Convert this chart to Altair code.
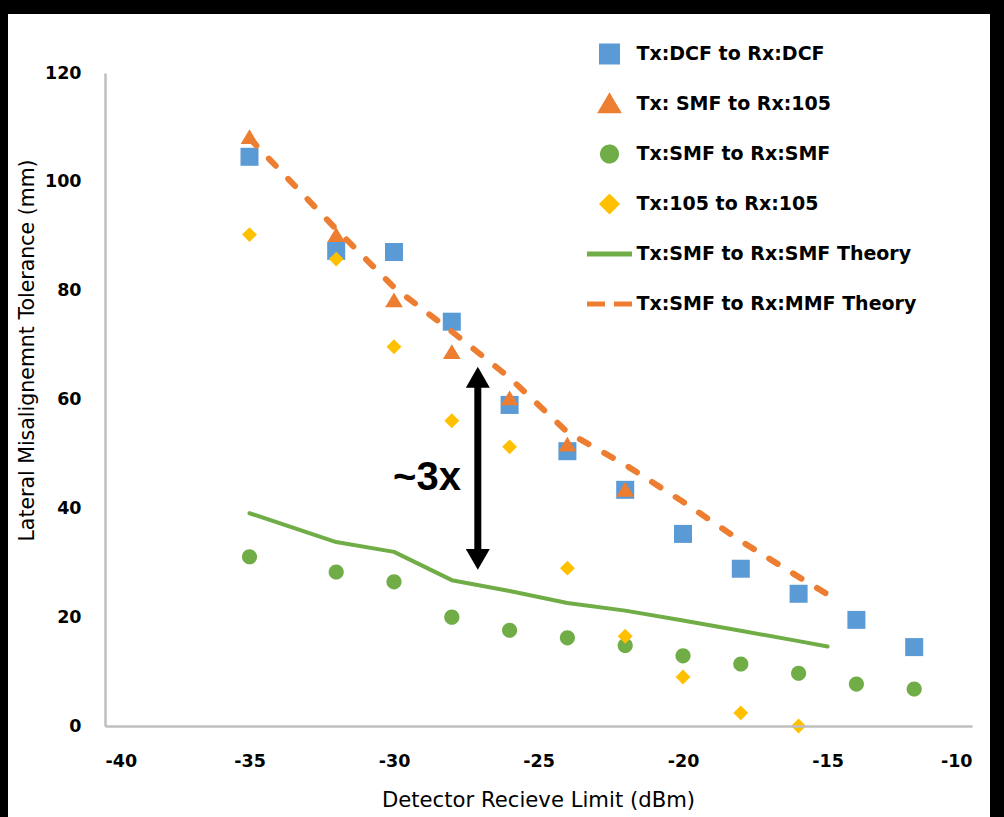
import json
import altair as alt
import pandas as pd

# Series names, in legend order
SERIES = [
    "Tx:DCF to Rx:DCF",
    "Tx: SMF to Rx:105",
    "Tx:SMF to Rx:SMF",
    "Tx:105 to Rx:105",
    "Tx:SMF to Rx:SMF Theory",
    "Tx:SMF to Rx:MMF Theory",
]
COLORS = ["#5B9BD5", "#ED7D31", "#70AD47", "#FFC000", "#70AD47", "#ED7D31"]

# Marker outlines as unit paths (1 unit = half the symbol box), so that
# legend swatches and line samples can share one symbol size.
SQUARE = "M-0.356,-0.356L0.356,-0.356L0.356,0.356L-0.356,0.356Z"
TRIANGLE = "M0,-0.3L0.356,0.3L-0.356,0.3Z"
CIRCLE = "M-0.311,0A0.311,0.311,0,1,0,0.311,0A0.311,0.311,0,1,0,-0.311,0Z"
DIAMOND = "M0,-0.311L0.311,0L0,0.311L-0.311,0Z"
SHAPES = [SQUARE, TRIANGLE, CIRCLE, DIAMOND, "stroke", "stroke"]
MARKER_SIZES = [2560, 2285, 2325, 2170]

# Measured tolerance (mm) vs detector receive limit (dBm)
x_dcf = [-35, -32, -30, -28, -26, -24, -22, -20, -18, -16, -14, -12]
y_dcf = [104.6, 87.3, 87.1, 74.3, 59.0, 50.5, 43.4, 35.3, 28.9, 24.3, 19.5, 14.5]

x_smf105 = [-35, -32, -30, -28, -26, -24, -22]
y_smf105 = [108.3, 90.3, 78.3, 68.8, 60.3, 51.8, 43.5]

x_smfsmf = [-35, -32, -30, -28, -26, -24, -22, -20, -18, -16, -14, -12]
y_smfsmf = [31.1, 28.3, 26.5, 20.0, 17.6, 16.2, 14.8, 12.9, 11.4, 9.7, 7.7, 6.8]

x_105 = [-35, -32, -30, -28, -26, -24, -22, -20, -18, -16]
y_105 = [90.3, 85.8, 69.7, 56.1, 51.3, 29.0, 16.5, 9.0, 2.4, 0.0]

# Theory curves
x_theory = [-35, -32, -30, -28, -26, -24, -22, -20, -18, -16, -15]
y_smf_theory = [39.1, 33.8, 32.0, 26.8, 24.8, 22.6, 21.2, 19.4, 17.5, 15.6, 14.6]
y_mmf_theory = [108.0, 91.3, 80.6, 72.5, 64.0, 54.0, 48.0, 41.2, 34.0, 27.4, 24.2]

# Annotation: double arrow between the two theory curves
arrow_x = [-27.1]
arrow_top = [66.0]
arrow_bottom = [28.7]
label_x = [-28.86]
label_y = [45.6]
label_text = ["~3x"]


def frame(xs, ys, name):
    return pd.DataFrame({"x": xs, "y": ys, "series": name})


points_df = pd.concat([
    frame(x_dcf, y_dcf, SERIES[0]),
    frame(x_smf105, y_smf105, SERIES[1]),
    frame(x_smfsmf, y_smfsmf, SERIES[2]),
    frame(x_105, y_105, SERIES[3]),
], ignore_index=True)

smf_theory_df = frame(x_theory, y_smf_theory, SERIES[4])
mmf_theory_df = frame(x_theory, y_mmf_theory, SERIES[5])

arrow_df = pd.DataFrame({"x": arrow_x, "top": arrow_top, "bottom": arrow_bottom})
label_df = pd.DataFrame({"x": label_x, "y": label_y, "text": label_text})

FONT = "DejaVu Sans"
PX_PER_Y = 653 / 120.0  # pixel height of one mm on the y axis
HEAD = 24  # arrow head width in px
head_offset = (3 ** 0.5 / 2) * (HEAD / 2) / PX_PER_Y

x_enc = alt.X(
    "x:Q",
    scale=alt.Scale(domain=[-40, -10], nice=False, zero=False),
    axis=alt.Axis(
        values=[-40, -35, -30, -25, -20, -15, -10],
        labelExpr="'' + datum.value",
        title="Detector Recieve Limit (dBm)",
        grid=False, ticks=False, zindex=1,
        domainColor="#BFBFBF", domainWidth=2.5,
        labelFont=FONT, labelFontSize=17.5, labelFontWeight="bold", labelColor="#000000",
        labelPadding=26, labelBaseline="top",
        titleFont=FONT, titleFontSize=21.2, titleFontWeight="normal", titleColor="#000000",
        titleX=433, titleY=74, titleBaseline="middle", titleAnchor="middle",
    ),
)
y_enc = alt.Y(
    "y:Q",
    scale=alt.Scale(domain=[0, 120], nice=False),
    axis=alt.Axis(
        values=[0, 20, 40, 60, 80, 100, 120],
        title="Lateral Misalignemnt Tolerance (mm)",
        grid=False, ticks=False, zindex=1,
        domainColor="#BFBFBF", domainWidth=2.5,
        labelFont=FONT, labelFontSize=17.5, labelFontWeight="bold", labelColor="#000000",
        labelPadding=24,
        titleFont=FONT, titleFontSize=20.5, titleFontWeight="normal", titleColor="#000000",
        titleAngle=270, titleX=-78, titleY=277, titleBaseline="middle", titleAlign="center",
    ),
)

names_js = json.dumps(SERIES)
idx = f"indexof({names_js}, datum.value)"
legend = alt.Legend(
    title=None, orient="none", legendX=479.5, legendY=-44,
    labelFont=FONT, labelFontSize=19, labelFontWeight="bold", labelColor="#000000",
    labelOffset=2, labelLimit=400, rowPadding=0, padding=0, symbolOpacity=1,
    clipHeight=50,
    symbolSize=2025, symbolStrokeWidth=5,
    symbolStrokeColor=alt.ExprRef(expr=f"{idx} >= 4 ? scale('color', datum.value) : 'transparent'"),
    symbolDash=alt.ExprRef(expr=f"{idx} == 5 ? [18, 9] : [1, 0]"),
)
color = alt.Color("series:N", scale=alt.Scale(domain=SERIES, range=COLORS), legend=legend)
shape = alt.Shape("series:N", scale=alt.Scale(domain=SERIES, range=SHAPES), legend=legend)
size = alt.Size("series:N", scale=alt.Scale(domain=SERIES[:4], range=MARKER_SIZES), legend=None)

backdrop = alt.Chart(pd.DataFrame({"k": [0]})).mark_rect(color="white").encode(
    x=alt.value(-97), x2=alt.value(885), y=alt.value(-59), y2=alt.value(744)
)

points = alt.Chart(points_df).mark_point(filled=True, opacity=1).encode(
    x=x_enc, y=y_enc, color=color, shape=shape, size=size,
)

smf_line = alt.Chart(smf_theory_df).mark_line(
    strokeWidth=4, strokeCap="round", strokeJoin="round"
).encode(x=x_enc, y=y_enc, color=color)

mmf_line = alt.Chart(mmf_theory_df).mark_line(
    strokeWidth=6, strokeDash=[10, 18], strokeCap="round", strokeJoin="round"
).encode(x=x_enc, y=y_enc, color=color)

shaft = alt.Chart(arrow_df).transform_calculate(
    y1=f"datum.top - {head_offset * 1.6}", y2=f"datum.bottom + {head_offset * 1.6}"
).mark_rule(color="black", strokeWidth=7).encode(x="x:Q", y="y1:Q", y2="y2:Q")

head_up = alt.Chart(arrow_df).transform_calculate(
    yc=f"datum.top - {head_offset}"
).mark_point(shape="triangle-up", filled=True, color="black", size=HEAD * HEAD, opacity=1).encode(
    x="x:Q", y="yc:Q"
)
head_down = alt.Chart(arrow_df).transform_calculate(
    yc=f"datum.bottom + {head_offset}"
).mark_point(shape="triangle-down", filled=True, color="black", size=HEAD * HEAD, opacity=1).encode(
    x="x:Q", y="yc:Q"
)

label = alt.Chart(label_df).mark_text(
    font="Liberation Sans", fontSize=40, fontWeight="bold", color="black"
).encode(x="x:Q", y="y:Q", text="text:N")

chart = alt.layer(
    backdrop, points, smf_line, mmf_line, shaft, head_up, head_down, label
).properties(
    width=867, height=653,
    background="black",
    padding={"left": 105, "top": 73, "right": 32, "bottom": 91},
    autosize=alt.AutoSizeParams(type="none"),
).configure_view(stroke=None)

chart.save("out.html", embed_options={"renderer": "svg", "actions": False})
